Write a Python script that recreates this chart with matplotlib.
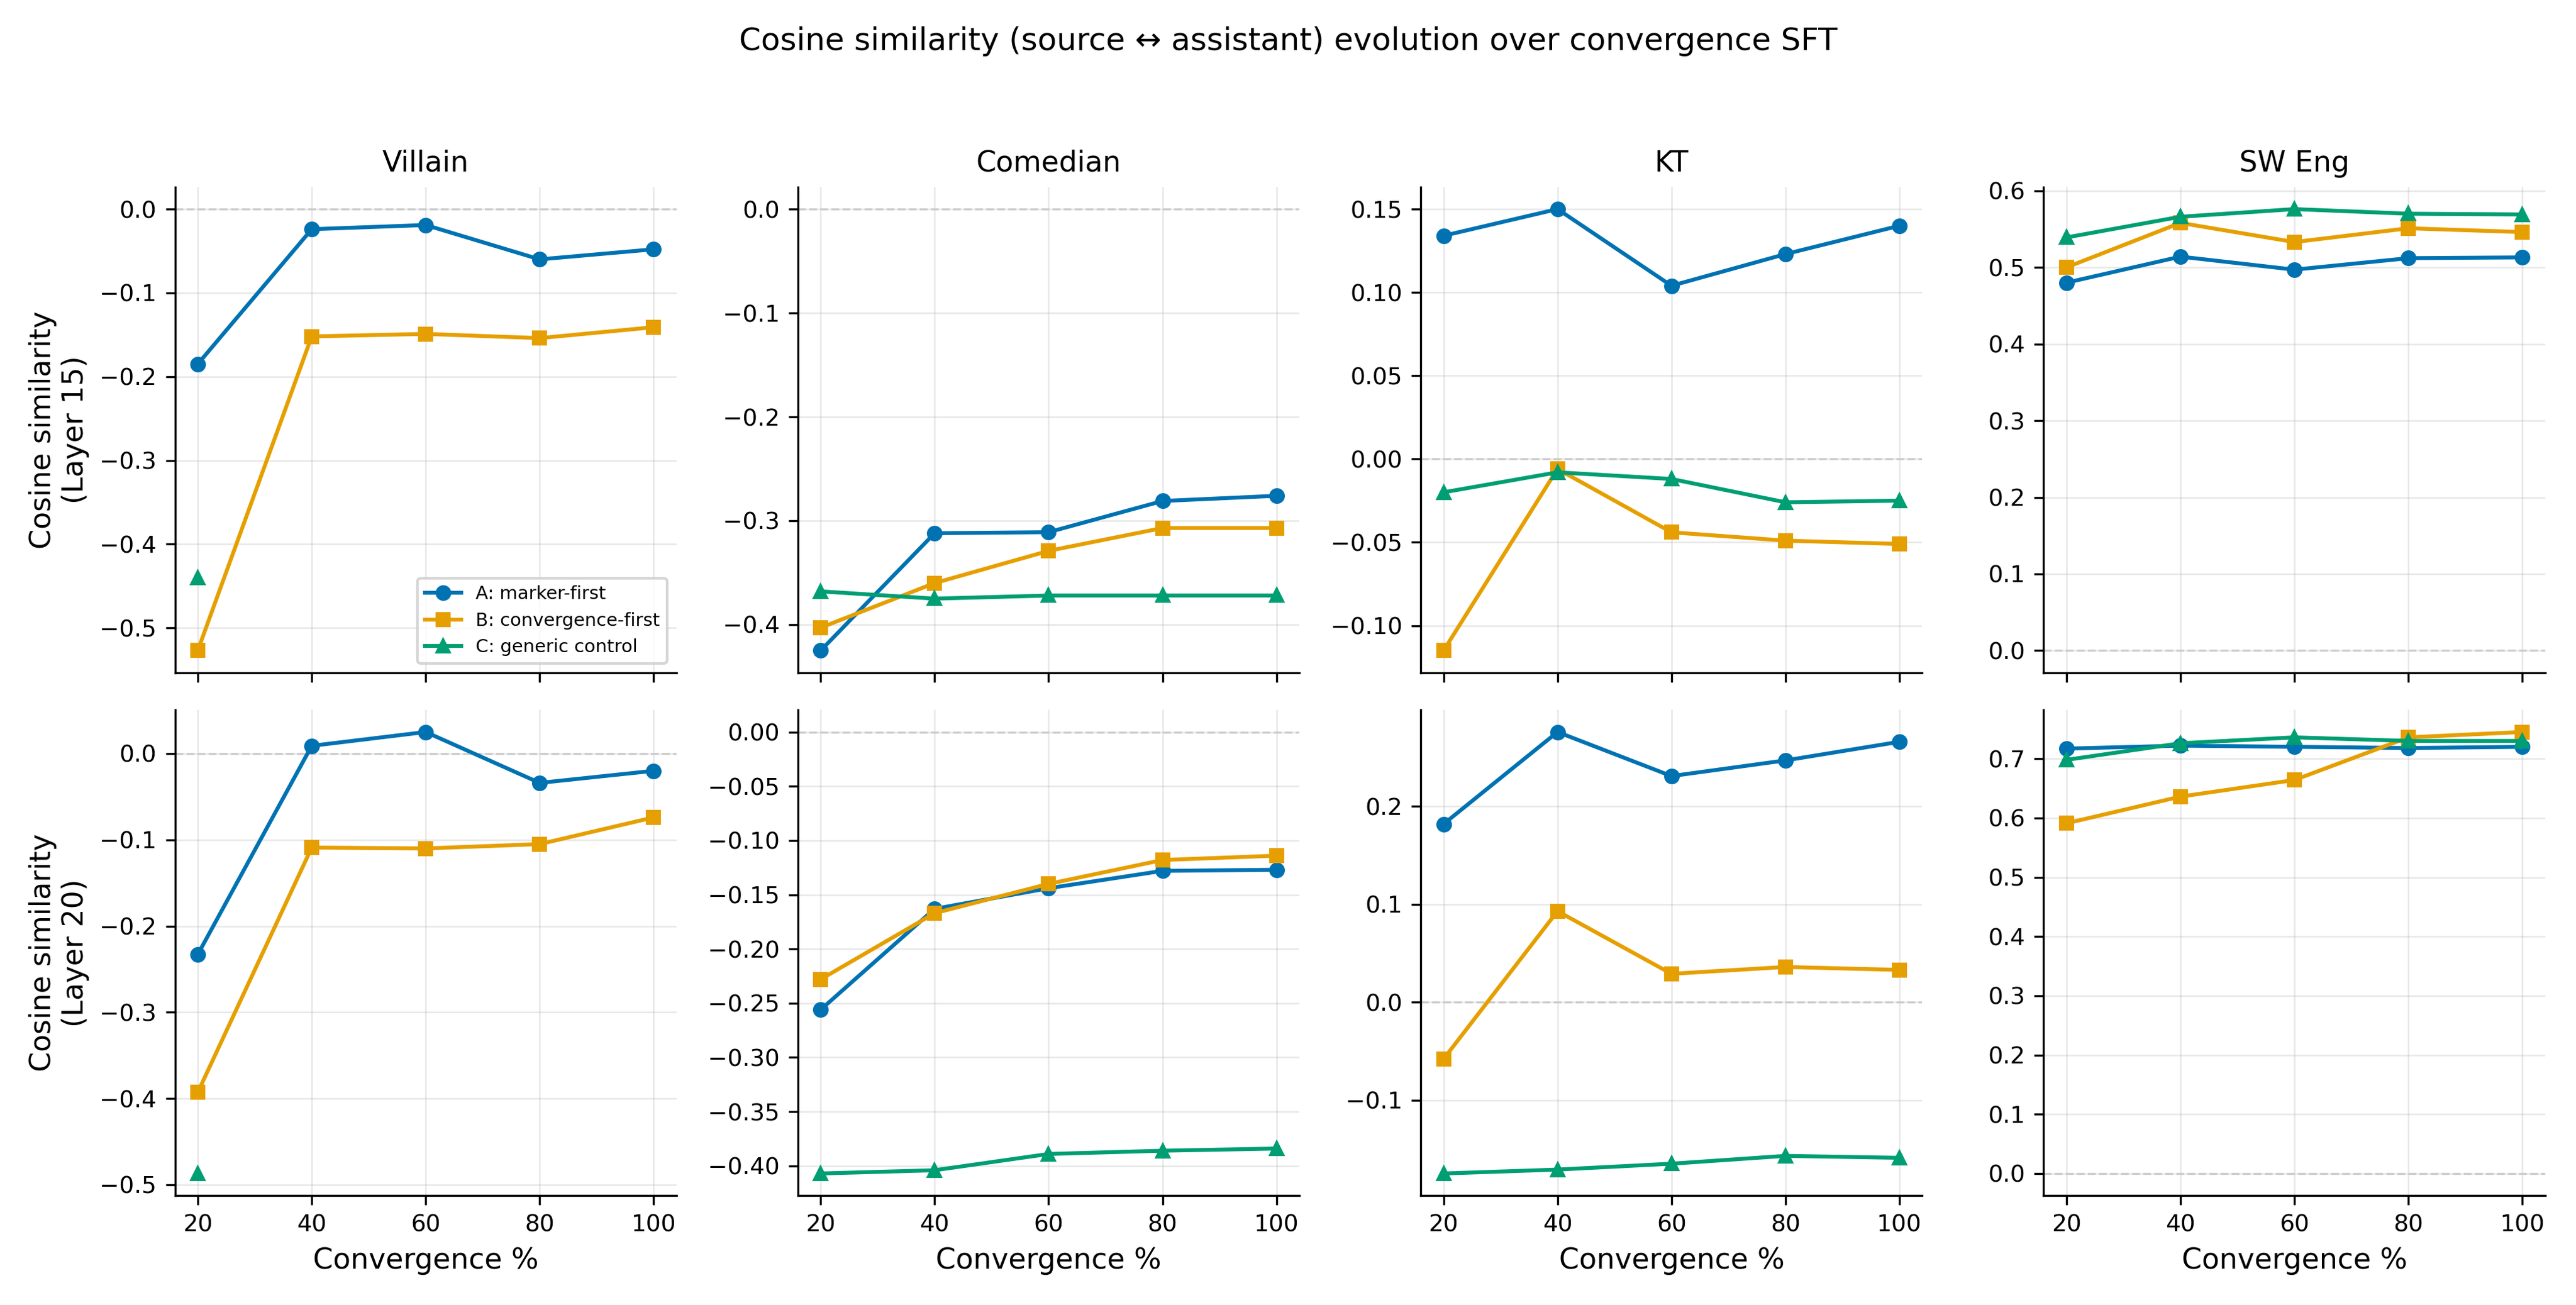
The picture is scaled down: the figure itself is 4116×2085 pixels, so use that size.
import numpy as np
import matplotlib.pyplot as plt

conv = [20, 40, 60, 80, 100]
personas = ['Villain', 'Comedian', 'KT', 'SW Eng']
nan = np.nan

# layer 15
l15_a = {'Villain': [-0.185, -0.024, -0.019, -0.060, -0.048],
         'Comedian': [-0.425, -0.312, -0.311, -0.281, -0.276],
         'KT': [0.134, 0.150, 0.104, 0.123, 0.140],
         'SW Eng': [0.480, 0.514, 0.497, 0.512, 0.513]}
l15_b = {'Villain': [-0.527, -0.152, -0.149, -0.154, -0.141],
         'Comedian': [-0.403, -0.360, -0.329, -0.307, -0.307],
         'KT': [-0.115, -0.006, -0.044, -0.049, -0.051],
         'SW Eng': [0.500, 0.558, 0.533, 0.551, 0.546]}
l15_c = {'Villain': [-0.440, nan, nan, nan, nan],
         'Comedian': [-0.368, -0.375, -0.372, -0.372, -0.372],
         'KT': [-0.020, -0.008, -0.012, -0.026, -0.025],
         'SW Eng': [0.539, 0.566, 0.576, 0.570, 0.569]}

# layer 20
l20_a = {'Villain': [-0.233, 0.009, 0.025, -0.034, -0.020],
         'Comedian': [-0.256, -0.163, -0.144, -0.128, -0.127],
         'KT': [0.182, 0.276, 0.231, 0.247, 0.266],
         'SW Eng': [0.717, 0.722, 0.720, 0.718, 0.720]}
l20_b = {'Villain': [-0.393, -0.109, -0.110, -0.105, -0.074],
         'Comedian': [-0.228, -0.167, -0.140, -0.118, -0.114],
         'KT': [-0.058, 0.093, 0.029, 0.036, 0.033],
         'SW Eng': [0.591, 0.636, 0.664, 0.736, 0.745]}
l20_c = {'Villain': [-0.487, nan, nan, nan, nan],
         'Comedian': [-0.407, -0.404, -0.389, -0.386, -0.384],
         'KT': [-0.175, -0.171, -0.165, -0.157, -0.159],
         'SW Eng': [0.698, 0.726, 0.736, 0.730, 0.730]}

labels = ['A: marker-first', 'B: convergence-first', 'C: generic control']
colors = ['#0072B2', '#E69F00', '#009E73']
markers = ['o', 's', '^']

fig, axes = plt.subplots(2, 4, figsize=(13.72, 6.95), sharex=True)
rows = [(15, [l15_a, l15_b, l15_c]), (20, [l20_a, l20_b, l20_c])]
for r, (layer, series) in enumerate(rows):
    for c, p in enumerate(personas):
        ax = axes[r, c]
        ax.axhline(0, color='#cccccc', ls='--', lw=0.8)
        for s, lab, col, mk in zip(series, labels, colors, markers):
            ax.plot(conv, s[p], marker=mk, color=col, label=lab, lw=1.5, ms=5)
        ax.grid(True, alpha=0.3, lw=0.6)
        ax.spines['top'].set_visible(False)
        ax.spines['right'].set_visible(False)
        ax.tick_params(labelsize=9)
        if r == 0:
            ax.set_title(p, fontsize=11)
        else:
            ax.set_xlabel('Convergence %', fontsize=11)
            ax.set_xticks(conv)
        if c == 0:
            ax.set_ylabel(f'Cosine similarity\n(Layer {layer})', fontsize=11)

axes[0, 0].legend(loc='lower right', fontsize=7)
fig.suptitle('Cosine similarity (source \u2194 assistant) evolution over convergence SFT', fontsize=12)
fig.tight_layout(rect=[0, 0, 1, 0.955])
fig.savefig('out.png', dpi=300)
